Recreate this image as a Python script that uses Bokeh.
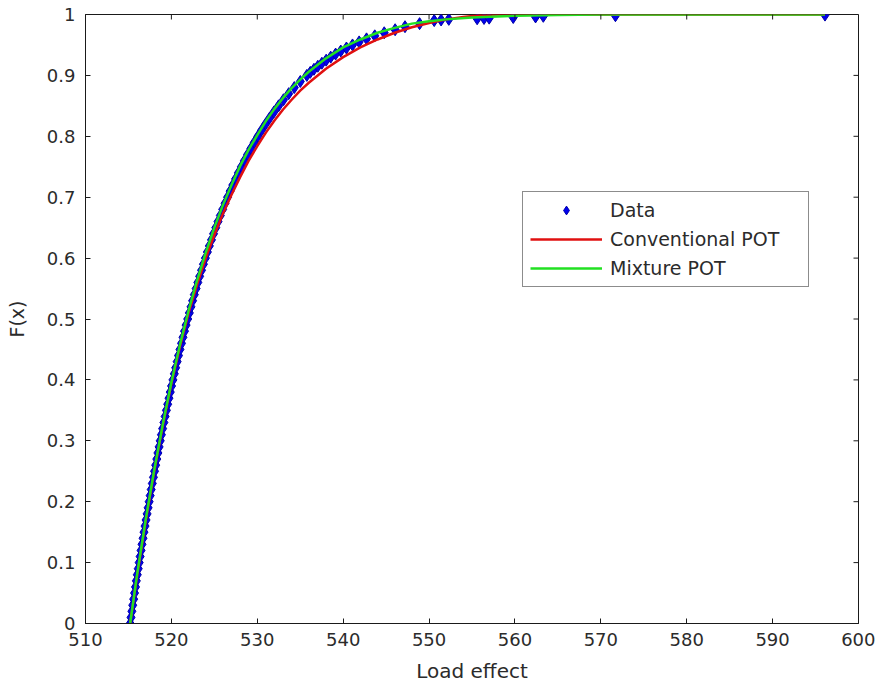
from bokeh.plotting import figure
from bokeh.models import FixedTicker, Legend, LegendItem, Range1d
from bokeh.embed import file_html
from bokeh.resources import INLINE

# ---- data ----
data_x = [515.20, 515.30, 515.40, 515.50, 515.61, 515.71, 515.82, 515.92, 516.03, 516.14,
          516.25, 516.36, 516.47, 516.58, 516.70, 516.81, 516.93, 517.05, 517.17, 517.29,
          517.41, 517.53, 517.65, 517.78, 517.91, 518.04, 518.17, 518.30, 518.43, 518.57,
          518.70, 518.84, 518.98, 519.13, 519.27, 519.42, 519.57, 519.72, 519.87, 520.02,
          520.18, 520.34, 520.50, 520.67, 520.83, 521.00, 521.18, 521.35, 521.53, 521.71,
          521.90, 522.09, 522.28, 522.47, 522.67, 522.88, 523.08, 523.29, 523.51, 523.73,
          523.96, 524.19, 524.42, 524.67, 524.91, 525.17, 525.43, 525.70, 525.97, 526.25,
          526.54, 526.84, 527.15, 527.47, 527.80, 528.15, 528.50, 528.87, 529.25, 529.65,
          530.07, 530.50, 530.96, 531.44, 531.94, 532.48, 533.05, 533.66, 534.31, 535.01,
          535.77, 536.17, 536.60, 537.05, 537.52, 538.02, 538.55, 539.12, 539.72, 540.38,
          541.09, 541.86, 542.72, 543.68, 544.78, 546.05, 547.20, 548.90, 550.60, 551.40,
          552.30, 555.60, 556.40, 557.00, 559.80, 562.40, 563.30, 571.70, 596.10]
data_f = [0.00, 0.01, 0.02, 0.03, 0.04, 0.05, 0.06, 0.07, 0.08, 0.09,
          0.10, 0.11, 0.12, 0.13, 0.14, 0.15, 0.16, 0.17, 0.18, 0.19,
          0.20, 0.21, 0.22, 0.23, 0.24, 0.25, 0.26, 0.27, 0.28, 0.29,
          0.30, 0.31, 0.32, 0.33, 0.34, 0.35, 0.36, 0.37, 0.38, 0.39,
          0.40, 0.41, 0.42, 0.43, 0.44, 0.45, 0.46, 0.47, 0.48, 0.49,
          0.50, 0.51, 0.52, 0.53, 0.54, 0.55, 0.56, 0.57, 0.58, 0.59,
          0.60, 0.61, 0.62, 0.63, 0.64, 0.65, 0.66, 0.67, 0.68, 0.69,
          0.70, 0.71, 0.72, 0.73, 0.74, 0.75, 0.76, 0.77, 0.78, 0.79,
          0.80, 0.81, 0.82, 0.83, 0.84, 0.85, 0.86, 0.87, 0.88, 0.89,
          0.900, 0.905, 0.910, 0.915, 0.920, 0.925, 0.930, 0.935, 0.940, 0.945,
          0.950, 0.955, 0.960, 0.965, 0.970, 0.975, 0.980, 0.985, 0.990, 0.991,
          0.992, 0.993, 0.9935, 0.994, 0.995, 0.996, 0.997, 0.998, 0.999]

conv_x = [515.2, 516, 517, 518, 519, 520, 521, 522, 523, 524, 525, 526, 527, 528, 529, 530,
          531, 532, 533, 534, 535, 536, 538, 540, 542, 544, 546, 548, 550, 552, 554, 556,
          558, 596.1]
conv_f = [0.0, 0.078, 0.167, 0.250, 0.325, 0.394, 0.455, 0.510, 0.557, 0.600, 0.638, 0.673,
          0.704, 0.733, 0.760, 0.784, 0.806, 0.826, 0.844, 0.860, 0.875, 0.888, 0.911, 0.930,
          0.946, 0.959, 0.970, 0.979, 0.986, 0.992, 0.996, 0.999, 1.0, 1.0]

mix_x = [515.2, 516, 517, 518, 519, 520, 521, 522, 523, 524, 525, 526, 527, 528, 529, 530,
         531, 532, 533, 534, 535, 536, 538, 540, 542, 544, 546, 548, 550, 552, 555, 560,
         565, 570, 596.1]
mix_f = [0.0, 0.080, 0.170, 0.252, 0.327, 0.396, 0.458, 0.514, 0.564, 0.609, 0.650, 0.687,
         0.720, 0.751, 0.778, 0.802, 0.825, 0.845, 0.863, 0.879, 0.893, 0.906, 0.928, 0.946,
         0.959, 0.970, 0.978, 0.985, 0.989, 0.992, 0.995, 0.998, 0.999, 1.0, 1.0]

x_ticks = [510, 520, 530, 540, 550, 560, 570, 580, 590, 600]
y_ticks = [0, 0.1, 0.2, 0.3, 0.4, 0.5, 0.6, 0.7, 0.8, 0.9, 1]

FONT = "DejaVu Sans"
INK = "#1a1a1a"
TXT = "#2b2b2b"

W, H = 875, 686
ML, MR, MT, MB = 85, 17, 14, 63
X0, X1, Y0, Y1 = 510, 600, 0, 1

p = figure(width=W, height=H, output_backend="svg", toolbar_location=None,
           x_range=Range1d(X0, X1), y_range=Range1d(Y0, Y1),
           min_border_left=ML, min_border_right=MR, min_border_top=MT, min_border_bottom=MB)
p.grid.visible = False
p.outline_line_color = INK
p.outline_line_width = 1
p.background_fill_color = "white"

r_data = p.scatter(data_x, data_f, marker="diamond", size=12,
                   fill_color="#0000ee", line_color="#0000aa", line_width=1)
r_conv = p.line(conv_x, conv_f, line_color="#e01010", line_width=2.5)
r_mix = p.line(mix_x, mix_f, line_color="#22e022", line_width=2.5)

# mirrored inward ticks on the top and right edges of the box (MATLAB style)
tick_px = 5
frame_w = W - ML - MR
frame_h = H - MT - MB
ty = tick_px * (Y1 - Y0) / frame_h
tx = tick_px * (X1 - X0) / frame_w
p.segment(x0=x_ticks, y0=[Y1] * len(x_ticks), x1=x_ticks, y1=[Y1 - ty] * len(x_ticks),
          line_color=INK, line_width=1)
p.segment(x0=[X1] * len(y_ticks), y0=y_ticks, x1=[X1 - tx] * len(y_ticks), y1=y_ticks,
          line_color=INK, line_width=1)

def style(ax, ticks):
    ax.ticker = FixedTicker(ticks=ticks)
    ax.major_tick_in = tick_px
    ax.major_tick_out = 0
    ax.major_tick_line_color = INK
    ax.minor_tick_line_color = None
    ax.axis_line_color = INK
    ax.major_label_text_font = FONT
    ax.major_label_text_font_size = "18px"
    ax.major_label_text_color = TXT

xa = p.xaxis[0]
style(xa, x_ticks)
xa.major_label_standoff = 9
xa.axis_label = "Load effect"
xa.axis_label_text_font = FONT
xa.axis_label_text_font_size = "20px"
xa.axis_label_text_font_style = "normal"
xa.axis_label_text_color = TXT
xa.axis_label_standoff = 10

ya = p.yaxis[0]
style(ya, y_ticks)
ya.major_label_standoff = 10
ya.major_label_overrides = {0: "0", 1: "1"}
ya.axis_label = "F(x)"
ya.axis_label_text_font = FONT
ya.axis_label_text_font_size = "19px"
ya.axis_label_text_font_style = "normal"
ya.axis_label_text_color = TXT
ya.axis_label_standoff = 16

legend = Legend(items=[LegendItem(label="Data", renderers=[r_data]),
                       LegendItem(label="Conventional POT", renderers=[r_conv]),
                       LegendItem(label="Mixture POT", renderers=[r_mix])],
                location=(437, 336))
legend.border_line_color = INK
legend.border_line_width = 1
legend.background_fill_color = "white"
legend.background_fill_alpha = 1
legend.label_text_font = FONT
legend.label_text_font_size = "19px"
legend.label_text_color = TXT
legend.padding = 7
legend.spacing = 7
legend.margin = 0
legend.glyph_width = 72
legend.glyph_height = 22
legend.label_height = 22
legend.label_standoff = 8
legend.label_width = 191
p.add_layout(legend, "center")

open("out.html", "w").write(file_html(p, INLINE))
